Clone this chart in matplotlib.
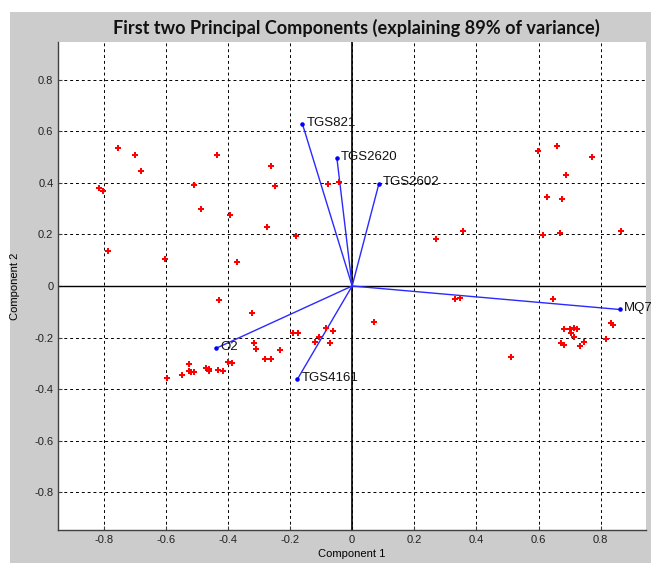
import numpy as np
from matplotlib import pyplot as plt
from matplotlib.patches import Rectangle

# observations (scores on the first two components)
obs_x = [
    -0.754, -0.700, -0.680, -0.814, -0.802, -0.787, -0.603, -0.435, -0.510,
    -0.485, -0.392, -0.371, -0.261, -0.248, -0.275, -0.181, -0.077, -0.041,
    0.271, 0.358, 0.599, 0.661, 0.773, 0.687, 0.626, 0.674, 0.616, 0.670, 0.866,
    -0.428, -0.321, -0.189, -0.173, -0.085, -0.061, -0.107, -0.119, -0.070,
    -0.315, -0.308, -0.233, -0.282, -0.260, -0.399, -0.387, -0.525, -0.525,
    -0.519, -0.510, -0.469, -0.460, -0.460, -0.432, -0.416, -0.548, -0.595,
    0.330, 0.346, 0.648, 0.071, 0.511, 0.683, 0.701, 0.713, 0.725, 0.704,
    0.713, 0.673, 0.683, 0.734, 0.747, 0.818, 0.832, 0.841,
]
obs_y = [
    0.534, 0.508, 0.444, 0.379, 0.368, 0.137, 0.103, 0.508, 0.390,
    0.299, 0.277, 0.093, 0.466, 0.386, 0.227, 0.194, 0.396, 0.404,
    0.183, 0.213, 0.524, 0.542, 0.502, 0.429, 0.346, 0.339, 0.197, 0.204, 0.212,
    -0.055, -0.103, -0.184, -0.184, -0.161, -0.175, -0.197, -0.218, -0.222,
    -0.222, -0.243, -0.250, -0.284, -0.284, -0.294, -0.300, -0.302, -0.329,
    -0.335, -0.334, -0.316, -0.320, -0.329, -0.324, -0.330, -0.345, -0.356,
    -0.051, -0.045, -0.051, -0.139, -0.277, -0.165, -0.165, -0.161, -0.165, -0.182,
    -0.197, -0.222, -0.229, -0.233, -0.218, -0.207, -0.145, -0.153,
]

# variable loadings
var_names = ["TGS821", "TGS2620", "TGS2602", "MQ7", "O2", "TGS4161"]
var_x = [-0.160, -0.049, 0.086, 0.861, -0.439, -0.176]
var_y = [0.628, 0.495, 0.396, -0.091, -0.242, -0.361]

ticks = [-0.8, -0.6, -0.4, -0.2, 0, 0.2, 0.4, 0.6, 0.8]
tick_labels = ["-0.8", "-0.6", "-0.4", "-0.2", "0", "0.2", "0.4", "0.6", "0.8"]

W, H = 651, 563
fig = plt.figure(figsize=(W / 100, H / 100), dpi=100)
fig.patch.set_facecolor("white")
fig.add_artist(
    Rectangle((10 / W, 0), 1 - 10 / W, (H - 12) / H, transform=fig.transFigure,
              facecolor="#cccccc", edgecolor="none", zorder=-10)
)

ax = fig.add_axes([58.3 / W, (H - 530) / H, (646 - 58.3) / W, (530 - 42) / H])
ax.set_zorder(1)
ax.set_facecolor("white")
lim = 0.946
ax.set_xlim(-lim, lim)
ax.set_ylim(-lim, lim)

ax.set_xticks(ticks)
ax.set_yticks(ticks)
ax.set_xticklabels(tick_labels)
ax.set_yticklabels(tick_labels)
ax.grid(True, color="black", linestyle=(0, (3, 3)), linewidth=0.7)
ax.set_axisbelow(True)

ax.axhline(0, color="black", linewidth=1.0, zorder=2)
ax.axvline(0, color="black", linewidth=1.2, zorder=2)

for nm, vx, vy in zip(var_names, var_x, var_y):
    ax.plot([0, vx], [0, vy], color="#2a2aff", linewidth=1.0, zorder=3)
    ax.plot(vx, vy, marker=".", color="blue", markersize=4.5, zorder=4)
    ax.annotate(nm, (vx, vy), xytext=(3, 1), textcoords="offset points",
                ha="left", va="center", fontsize=9.5, family="Liberation Sans",
                color="#111111", zorder=5)

ax.plot(obs_x, obs_y, linestyle="none", marker="P", markersize=4.2,
        color="red", markeredgewidth=0, zorder=4)

for side in ["top", "right"]:
    ax.spines[side].set_visible(False)
for side in ["left", "bottom"]:
    ax.spines[side].set_color("#404040")
    ax.spines[side].set_linewidth(1.0)

ax.tick_params(direction="in", length=3, width=0.8, colors="#404040",
               labelsize=8, labelcolor="#222222")
for lbl in ax.get_xticklabels() + ax.get_yticklabels():
    lbl.set_family("Liberation Sans")

ax.set_xlabel("Component 1", fontsize=8, family="Liberation Sans", labelpad=3)
ax.set_ylabel("Component 2", fontsize=8, family="Liberation Sans", labelpad=10)

fig.text(356 / W, 1 - 28 / H, "First two Principal Components (explaining 89% of variance)",
         ha="center", va="center", fontsize=13.1, fontweight="bold", family="Lato",
         color="#111111")

fig.savefig("out.png", dpi=100)
